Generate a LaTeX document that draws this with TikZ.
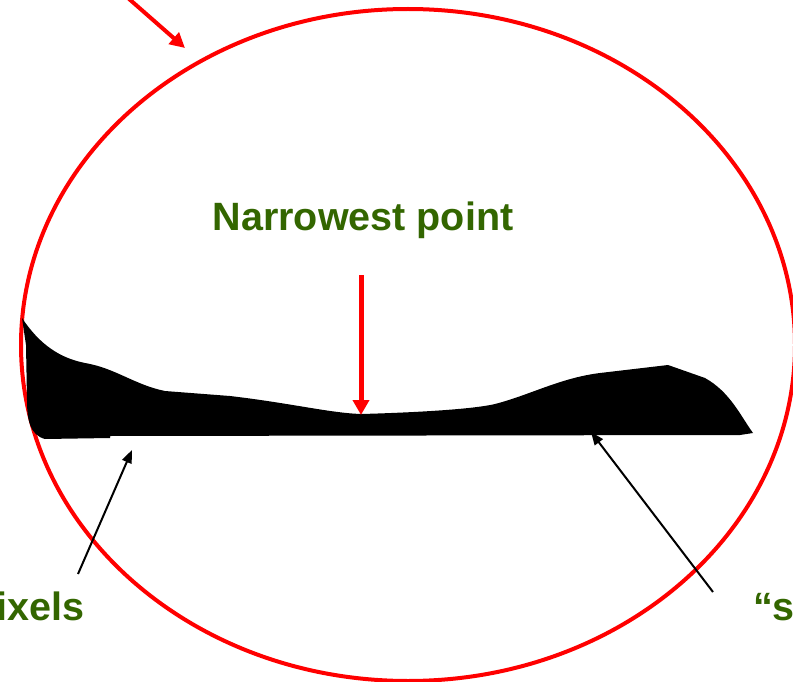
\documentclass[tikz,border=0pt]{standalone}
\usepackage{fontspec}
\setmainfont{Liberation Sans}
\usetikzlibrary{arrows.meta}
\definecolor{lblgreen}{RGB}{51,102,0}
\tikzset{
  redarrow/.style={draw=red, line width=4pt, -{Triangle[length=15pt,width=15pt]}},
  redbig/.style={draw=red, line width=5pt, -{Triangle[length=15pt,width=16pt]}},
  blackarrow/.style={draw=black, line width=2pt, -{Triangle[length=13pt,width=10pt]}},
  lbl/.style={text=lblgreen, font=\bfseries\fontsize{39.5}{44}\selectfont, inner sep=0pt}
}
\begin{document}
\begin{tikzpicture}[x=1pt,y=-1pt]
\useasboundingbox (0,0) rectangle (793,682);
\fill[white] (0,0) rectangle (793,682);
% ellipse
\draw[red, line width=4pt] (408,345) ellipse [x radius=387, y radius=336];
% black shape
\fill[black] (22,318) .. controls (40,345) and (60,358) .. (85,363)
  .. controls (115,368) and (135,385) .. (165,391) -- (230,396)
  .. controls (290,403) and (330,413) .. (361,414)
  .. controls (400,413) and (470,410) .. (495,404)
  .. controls (530,395) and (560,378) .. (600,373) -- (668,365) -- (705,378)
  .. controls (730,392) and (740,415) .. (753,433) -- (740,435) -- (110,436)
  -- (110,438) -- (45,439) .. controls (30,435) and (27,420) .. (27,400)
  -- (26,345) -- cycle;
% labels
\node[lbl, anchor=base] (narrow) at (363,230) {Narrowest point};
\node[lbl, anchor=base west] (pix) at (-4,620) {ixels};
\node[lbl, anchor=base west] (quote) at (753,620) {“s};
% arrow coordinates
\coordinate (ta) at (128,-2);
\coordinate (tb) at (185,48);
\coordinate (va) at (361,275);
\coordinate (vb) at (361,415);
\coordinate (la) at (78,574);
\coordinate (lb) at (132,450);
\coordinate (ra) at (713,592);
\coordinate (rb) at (591,432);
\draw[redarrow] (ta) -- (tb);
\draw[redbig] (va) -- (vb);
\draw[blackarrow] (la) -- (lb);
\draw[blackarrow] (ra) -- (rb);
\end{tikzpicture}
\end{document}
